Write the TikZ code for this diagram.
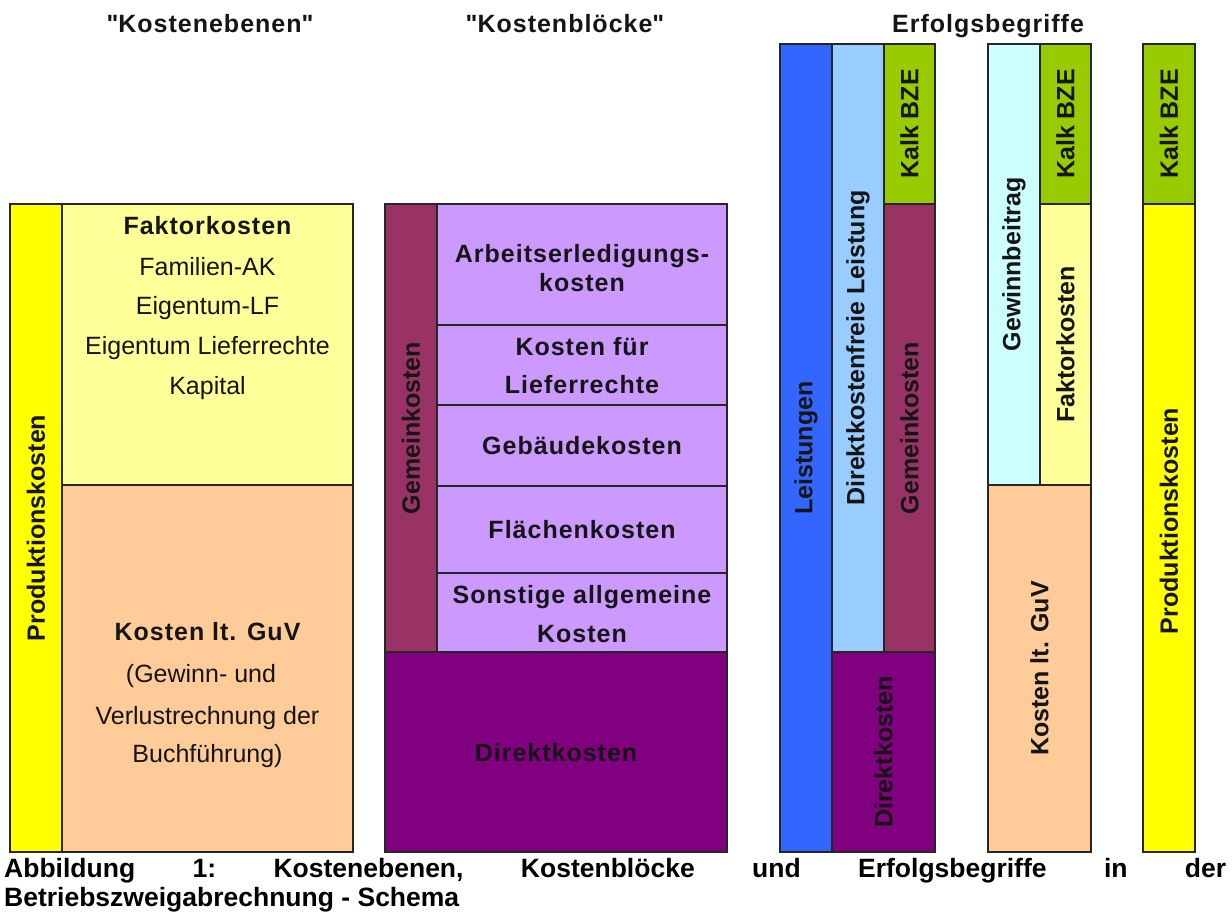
\documentclass[tikz,border=0pt]{standalone}
\usepackage{fontspec}
\setmainfont{Liberation Sans}
\newfontfamily\lsfam[LetterSpace=4]{Liberation Sans}
\definecolor{cYel}{HTML}{FFFF00}
\definecolor{cLYel}{HTML}{FFFF99}
\definecolor{cPeach}{HTML}{FFCC99}
\definecolor{cMaroon}{HTML}{993366}
\definecolor{cLav}{HTML}{CC99FF}
\definecolor{cPurp}{HTML}{800080}
\definecolor{cBlue}{HTML}{3366FF}
\definecolor{cLBlue}{HTML}{99CCFF}
\definecolor{cGreen}{HTML}{99CC00}
\definecolor{cCyan}{HTML}{CCFFFF}
\definecolor{cTxt}{HTML}{151515}
\newcommand\cellbox[6]{%
  \node[cell, fill=#6, minimum width={#4-#2}, minimum height={#5-#3}] (#1) at ({(#2+#4)/2},{(#3+#5)/2}) {};}
\begin{document}
\begin{tikzpicture}[x=1pt,y=-1pt,
  cell/.style={draw=black!85, line width=1.4pt, inner sep=0pt, outer sep=0pt},
  lbl/.style={font=\bfseries\fontsize{25}{30}\selectfont, text=cTxt, inner sep=0pt},
  rlbl/.style={lbl, rotate=90},
  reg/.style={font=\fontsize{25}{30}\selectfont, text=cTxt, inner sep=0pt, anchor=base},
  blbl/.style={font=\lsfam\bfseries\fontsize{25}{30}\selectfont, text=cTxt, inner sep=0pt, anchor=base},
  head/.style={font=\lsfam\bfseries\fontsize{25}{30}\selectfont, text=cTxt, inner sep=0pt, anchor=base},
  capt/.style={font=\bfseries\fontsize{26.5}{30}\selectfont, text=black, inner sep=0pt, anchor=base west}]
\useasboundingbox (0,0) rectangle (1232,915);
\fill[white] (0,0) rectangle (1232,915);
% headings
\node[head] (h1) at (210,33) {\textquotedbl Kostenebenen\textquotedbl};
\node[head] (h2) at (565,33) {\textquotedbl Kostenblöcke\textquotedbl};
\node[head] (h3) at (988,33) {Erfolgsbegriffe};
% left block
\cellbox{prodL}{10}{204}{62}{852}{cYel}
\cellbox{faktL}{62}{204}{353}{485}{cLYel}
\cellbox{guvL}{62}{485}{353}{852}{cPeach}
% middle block
\cellbox{gemM}{385}{204}{437}{652}{cMaroon}
\cellbox{arbM}{437}{204}{727}{325}{cLav}
\cellbox{liefM}{437}{325}{727}{405}{cLav}
\cellbox{gebM}{437}{405}{727}{486}{cLav}
\cellbox{flM}{437}{486}{727}{573}{cLav}
\cellbox{sonstM}{437}{573}{727}{652}{cLav}
\cellbox{dirM}{385}{652}{727}{852}{cPurp}
% right group 1
\cellbox{leist}{780}{44}{832}{852}{cBlue}
\cellbox{dfl}{832}{44}{884}{652}{cLBlue}
\cellbox{bzeA}{884}{44}{935}{204}{cGreen}
\cellbox{gemA}{884}{204}{935}{652}{cMaroon}
\cellbox{dirA}{832}{652}{935}{852}{cPurp}
% right group 2
\cellbox{gb}{988}{44}{1040}{485}{cCyan}
\cellbox{bzeB}{1040}{44}{1091}{204}{cGreen}
\cellbox{fkB}{1040}{204}{1091}{485}{cLYel}
\cellbox{guvB}{988}{485}{1091}{852}{cPeach}
% right group 3
\cellbox{bzeC}{1143}{44}{1195}{204}{cGreen}
\cellbox{prodC}{1143}{204}{1195}{852}{cYel}
% rotated labels
\node[rlbl] (tProdL) at (prodL.center) {Produktionskosten};
\node[rlbl] (tGemM) at (gemM.center) {Gemeinkosten};
\node[rlbl] (tLeist) at (leist.center) {Leistungen};
\node[rlbl] (tDfl) at (dfl.center) {Direktkostenfreie Leistung};
\node[rlbl] (tBzeA) at (bzeA.center) {Kalk BZE};
\node[rlbl] (tGemA) at (gemA.center) {Gemeinkosten};
\node[rlbl] (tDirA) at (dirA.center) {Direktkosten};
\node[rlbl] (tGb) at (gb.center) {Gewinnbeitrag};
\node[rlbl] (tBzeB) at (bzeB.center) {Kalk BZE};
\node[rlbl] (tFkB) at (fkB.center) {Faktorkosten};
\node[rlbl] (tGuvB) at (guvB.center) {Kosten lt. GuV};
\node[rlbl] (tBzeC) at (bzeC.center) {Kalk BZE};
\node[rlbl] (tProdC) at ([yshift=7pt]prodC.center) {Produktionskosten};
% left block texts
\node[blbl] (tFakt) at (207.5,234) {Faktorkosten};
\node[reg] (tFam) at (207.5,275) {Familien-AK};
\node[reg] (tEigLF) at (207.5,314) {Eigentum-LF};
\node[reg] (tEigLR) at (207.5,354) {Eigentum Lieferrechte};
\node[reg] (tKap) at (207.5,394) {Kapital};
\node[blbl] (tGuv) at (207.5,640) {Kosten lt. GuV};
\node[reg] (tGew) at (201,682) {(Gewinn- und};
\node[reg] (tVer) at (207.5,724) {Verlustrechnung der};
\node[reg] (tBuch) at (207.5,762) {Buchführung)};
% middle block texts
\node[blbl] (tArb1) at (582,262) {Arbeitserledigungs-};
\node[blbl] (tArb2) at (582,291) {kosten};
\node[blbl] (tLief1) at (582,355) {Kosten für};
\node[blbl] (tLief2) at (582,393) {Lieferrechte};
\node[blbl] (tGeb) at (582,454) {Gebäudekosten};
\node[blbl] (tFl) at (582,538) {Flächenkosten};
\node[blbl] (tSon1) at (582,603) {Sonstige allgemeine};
\node[blbl] (tSon2) at (582,642) {Kosten};
\node[blbl] (tDirM) at (556,761) {Direktkosten};
% caption
\node[capt] (cap1) at (4,877) {\hbox to 1222pt{Abbildung\hfil 1:\hfil Kostenebenen,\hfil Kostenblöcke\hfil und\hfil Erfolgsbegriffe\hfil in\hfil der}};
\node[capt] (cap2) at (4,906) {Betriebszweigabrechnung - Schema};
\end{tikzpicture}
\end{document}
